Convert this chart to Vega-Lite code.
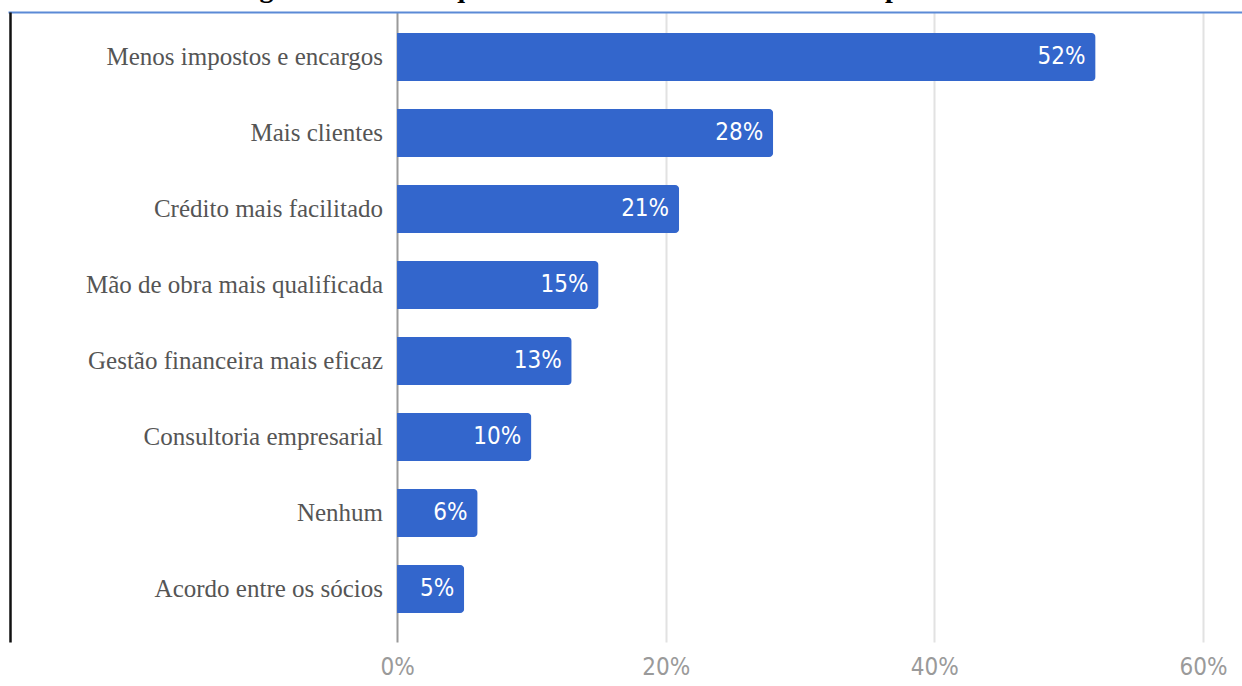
{
  "$schema": "https://vega.github.io/schema/vega-lite/v6.json",
  "width": 1234,
  "height": 630,
  "autosize": {"type": "none"},
  "padding": {"left": 8, "top": 12, "right": 0, "bottom": 44},
  "background": "white",
  "title": {
    "text": "Figura 4: Fatores que levariam ao sucesso as novas empresas formais",
    "font": "Liberation Serif",
    "fontSize": 28,
    "fontWeight": "bold",
    "color": "#000000",
    "anchor": "middle",
    "frame": "group",
    "baseline": "alphabetic",
    "offset": 0,
    "dy": 13,
    "dx": 22
  },
  "config": {"view": {"stroke": null}},
  "data": {
    "values": [
      {"fator": "Menos impostos e encargos", "pct": 0.52},
      {"fator": "Mais clientes", "pct": 0.28},
      {"fator": "Crédito mais facilitado", "pct": 0.21},
      {"fator": "Mão de obra mais qualificada", "pct": 0.15},
      {"fator": "Gestão financeira mais eficaz", "pct": 0.13},
      {"fator": "Consultoria empresarial", "pct": 0.10},
      {"fator": "Nenhum", "pct": 0.06},
      {"fator": "Acordo entre os sócios", "pct": 0.05}
    ]
  },
  "encoding": {
    "y": {
      "field": "fator",
      "type": "nominal",
      "sort": null,
      "scale": {"paddingInner": 0.37, "paddingOuter": 0.33, "align": 0.42},
      "axis": {
        "title": null,
        "labels": false,
        "ticks": false,
        "grid": false,
        "domain": true,
        "domainColor": "#111111",
        "domainWidth": 2.5,
        "offset": -2
      }
    }
  },
  "layer": [
    {
      "mark": {"type": "bar", "color": "#3366cc", "cornerRadiusEnd": 4},
      "encoding": {
        "x": {
          "field": "pct",
          "type": "quantitative",
          "scale": {"domain": [-0.2896, 0.629], "nice": false, "zero": false},
          "axis": {
            "orient": "bottom",
            "title": null,
            "values": [0, 0.2, 0.4, 0.6],
            "format": ".0%",
            "grid": true,
            "gridColor": {"condition": {"test": "datum.value === 0", "value": "#9a9a9a"}, "value": "#e2e2e2"},
            "gridWidth": 2,
            "domain": false,
            "ticks": false,
            "labelFont": "DejaVu Sans Condensed",
            "labelFontSize": 24,
            "labelColor": "#9a9a9a",
            "labelPadding": 13
          }
        }
      }
    },
    {
      "mark": {"type": "text", "align": "right", "baseline": "middle", "dx": -10, "color": "#ffffff", "font": "DejaVu Sans Condensed", "fontSize": 24},
      "encoding": {
        "x": {
          "field": "pct",
          "type": "quantitative",
          "axis": {
            "orient": "top",
            "title": null,
            "labels": false,
            "ticks": false,
            "grid": false,
            "domain": true,
            "domainColor": "#5b8ad6",
            "domainWidth": 2
          }
        },
        "text": {"field": "pct", "type": "quantitative", "format": ".0%"}
      }
    },
    {
      "mark": {"type": "text", "align": "right", "baseline": "middle", "dx": -14, "color": "#555555", "font": "Liberation Serif", "fontSize": 25},
      "encoding": {
        "x": {"datum": 0, "type": "quantitative", "axis": null},
        "text": {"field": "fator", "type": "nominal"}
      }
    }
  ],
  "resolve": {"axis": {"x": "independent"}}
}
